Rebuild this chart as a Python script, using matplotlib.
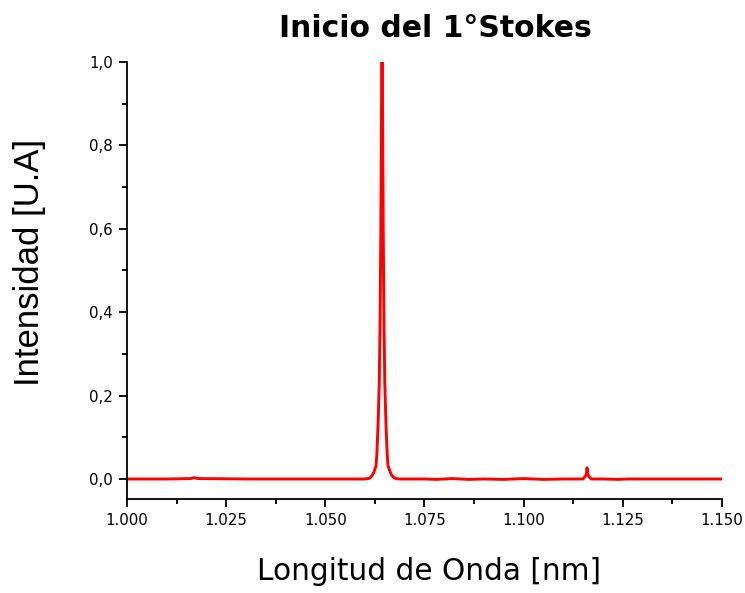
import matplotlib.pyplot as plt
from matplotlib.ticker import MultipleLocator, FuncFormatter

# wavelength [nm] and normalised intensity
wavelength = [1.000, 1.010, 1.0160, 1.0170, 1.0180, 1.030, 1.045, 1.056,
              1.0598, 1.0608, 1.0613, 1.0618, 1.0623, 1.0628, 1.0630, 1.0633,
              1.0636, 1.0638, 1.0640, 1.0641, 1.0642, 1.0643, 1.0644, 1.0645,
              1.0646, 1.0648, 1.0650, 1.0653, 1.0656, 1.0658, 1.0663, 1.0668,
              1.0673, 1.0678, 1.0688, 1.0750, 1.0780, 1.0820, 1.0860, 1.0900,
              1.0950, 1.1000, 1.1050, 1.1100, 1.1150, 1.1158, 1.1160, 1.1162,
              1.1170, 1.1200, 1.1240, 1.1260, 1.1300, 1.1400, 1.1500]
intensity = [0.000, 0.000, 0.001, 0.003, 0.001, 0.000, 0.000, 0.000,
             0.000, 0.001, 0.003, 0.008, 0.018, 0.032, 0.060, 0.130,
             0.230, 0.370, 0.600, 0.780, 0.935, 1.000, 0.935, 0.780,
             0.600, 0.370, 0.230, 0.130, 0.060, 0.032, 0.018, 0.008,
             0.003, 0.001, 0.000, 0.000, -0.001, 0.001, -0.001, 0.000,
             -0.001, 0.001, -0.001, 0.000, 0.000, 0.010, 0.027, 0.010,
             0.000, 0.000, -0.001, 0.000, 0.000, 0.000, 0.000]

fig = plt.figure(figsize=(7.45, 5.93), dpi=100)
ax = fig.add_axes([0.1705, 0.1585, 0.7985, 0.737])
ax.plot(wavelength, intensity, color='red', lw=2.1)

ax.set_xlim(1.0, 1.15)
ax.set_ylim(-0.048, 1.0)
ax.spines['top'].set_visible(False)
ax.spines['right'].set_visible(False)
for s in ('left', 'bottom'):
    ax.spines[s].set_linewidth(1.3)

ax.xaxis.set_major_locator(MultipleLocator(0.025))
ax.xaxis.set_minor_locator(MultipleLocator(0.0125))
ax.set_yticks([0, 0.2, 0.4, 0.6, 0.8, 1.0])
ax.yaxis.set_minor_locator(MultipleLocator(0.1))
ax.xaxis.set_major_formatter(FuncFormatter(lambda v, p: '%.3f' % v))
ax.yaxis.set_major_formatter(FuncFormatter(lambda v, p: ('%.1f' % v).replace('.', ',')))
ax.tick_params(which='major', direction='out', length=5.8, width=1.3, pad=4.3,
               labelsize=10.8)
ax.tick_params(which='minor', direction='out', length=3.6, width=1.3)

fig.text(429 / 745, 1 - 580 / 593, 'Longitud de Onda [nm]', ha='center',
         va='baseline', fontsize=21.3)
fig.text(29.5 / 745, 1 - 262 / 593, 'Intensidad [U.A]', rotation=90, ha='center',
         va='center', fontsize=25, family='Liberation Sans')
fig.text(435 / 745, 1 - 37 / 593, 'Inicio del 1°Stokes', ha='center', va='baseline',
         fontsize=21.5, fontweight='heavy')

fig.savefig('out.png', dpi=100)
